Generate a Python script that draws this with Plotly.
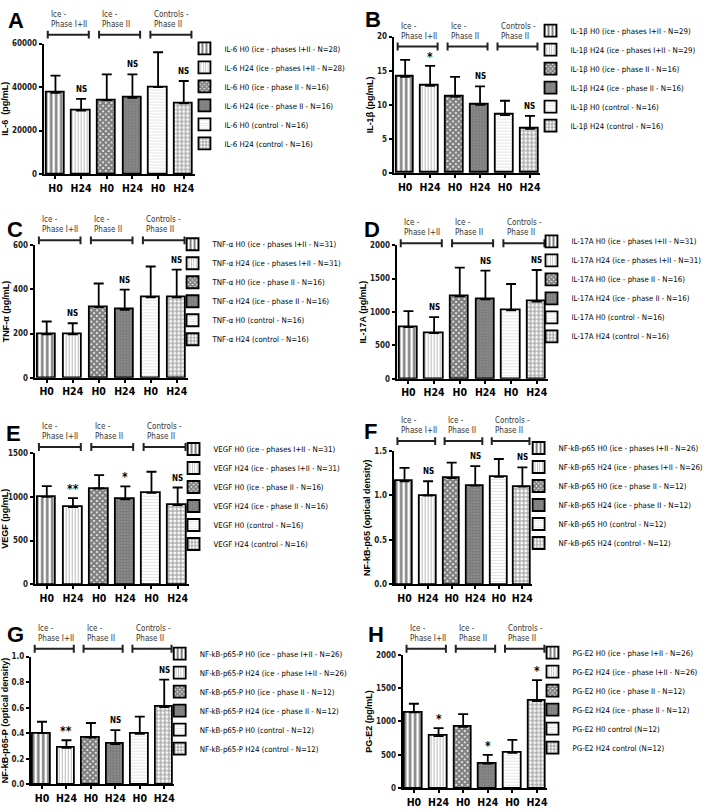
import plotly.graph_objects as go

# ---- data (mean, upper error bar) ----
bar_labels = ["H0", "H24", "H0", "H24", "H0", "H24"]
group_titles = ["Ice -<br>Phase I+II", "Ice -<br>Phase II", "Controls -<br>Phase II"]

il6_mean = [37300, 29200, 34000, 35000, 40000, 32500]
il6_err = [8000, 5400, 11800, 10800, 16000, 10300]
il6_sig = ["", "NS", "", "NS", "", "NS"]
il6_ticks = [0, 20000, 40000, 60000]
il6_names = ["IL-6 H0 (ice - phases I+II - N=28)", "IL-6 H24 (ice - phases I+II - N=28)",
             "IL-6 H0 (ice - phase II - N=16)", "IL-6 H24 (ice - phase II - N=16)",
             "IL-6 H0 (control - N=16)", "IL-6 H24 (control - N=16)"]

il1b_mean = [14.1, 12.8, 11.2, 10.0, 8.5, 6.5]
il1b_err = [2.5, 2.9, 2.9, 2.7, 2.1, 1.9]
il1b_sig = ["", "*", "", "NS", "", "NS"]
il1b_ticks = [0, 5, 10, 15, 20]
il1b_names = ["IL-1β H0 (ice - phases I+II - N=29)", "IL-1β H24 (ice - phases I+II - N=29)",
              "IL-1β H0 (ice - phase II - N=16)", "IL-1β H24 (ice - phase II - N=16)",
              "IL-1β H0 (control - N=16)", "IL-1β H24 (control - N=16)"]

tnf_mean = [197, 197, 320, 308, 364, 364]
tnf_err = [58, 50, 107, 91, 140, 126]
tnf_sig = ["", "NS", "", "NS", "", "NS"]
tnf_ticks = [0, 200, 400, 600]
tnf_names = ["TNF-α H0 (ice - phases I+II - N=31)", "TNF-α H24 (ice - phases I+II - N=31)",
             "TNF-α H0 (ice - phase II - N=16)", "TNF-α H24 (ice - phase II - N=16)",
             "TNF-α H0 (control - N=16)", "TNF-α H24 (control - N=16)"]

il17_mean = [775, 685, 1235, 1190, 1025, 1155]
il17_err = [240, 240, 430, 430, 395, 475]
il17_sig = ["", "NS", "", "NS", "", "NS"]
il17_ticks = [0, 500, 1000, 1500, 2000]
il17_names = ["IL-17A H0 (ice - phases I+II - N=31)", "IL-17A H24 (ice - phases I+II - N=31)",
              "IL-17A H0 (ice - phase II - N=16)", "IL-17A H24 (ice - phase II - N=16)",
              "IL-17A H0 (control - N=16)", "IL-17A H24 (control - N=16)"]

vegf_mean = [1000, 882, 1095, 970, 1046, 906]
vegf_err = [122, 103, 152, 150, 240, 200]
vegf_sig = ["", "**", "", "*", "", "NS"]
vegf_ticks = [0, 500, 1000, 1500]
vegf_names = ["VEGF H0 (ice - phases I+II - N=31)", "VEGF H24 (ice - phases I+II - N=31)",
              "VEGF H0 (ice - phase II - N=16)", "VEGF H24 (ice - phase II - N=16)",
              "VEGF H0 (control - N=16)", "VEGF H24 (control - N=16)"]

p65_mean = [1.16, 1.00, 1.195, 1.11, 1.21, 1.10]
p65_err = [0.15, 0.16, 0.175, 0.22, 0.20, 0.215]
p65_sig = ["", "NS", "", "NS", "", "NS"]
p65_ticks = [0.0, 0.5, 1.0, 1.5]
p65_names = ["NF-kB-p65 H0 (ice - phases I+II - N=26)", "NF-kB-p65 H24 (ice - phases I+II - N=26)",
             "NF-kB-p65 H0 (ice - phase II - N=12)", "NF-kB-p65 H24 (ice - phase II - N=12)",
             "NF-kB-p65 H0 (control - N=12)", "NF-kB-p65 H24 (control - N=12)"]

p65p_mean = [0.40, 0.285, 0.365, 0.315, 0.395, 0.605]
p65p_err = [0.09, 0.06, 0.115, 0.11, 0.135, 0.215]
p65p_sig = ["", "**", "", "NS", "", "NS"]
p65p_ticks = [0.0, 0.2, 0.4, 0.6, 0.8, 1.0]
p65p_names = ["NF-kB-p65-P H0 (ice - phase I+II - N=26)", "NF-kB-p65-P H24 (ice - phase I+II - N=26)",
              "NF-kB-p65-P H0 (ice - phase II - N=12)", "NF-kB-p65-P H24 (ice - phase II - N=12)",
              "NF-kB-p65-P H0 (control - N=12)", "NF-kB-p65-P H24 (control - N=12)"]

pge2_mean = [1135, 780, 920, 370, 530, 1305]
pge2_err = [130, 120, 190, 130, 195, 315]
pge2_sig = ["", "*", "", "*", "", "*"]
pge2_ticks = [0, 500, 1000, 1500, 2000]
pge2_names = ["PG-E2 H0 (ice - phase I+II - N=26)", "PG-E2 H24 (ice - phase I+II - N=26)",
              "PG-E2 H0 (ice - phase II - N=12)", "PG-E2 H24 (ice - phase II - N=12)",
              "PG-E2 H0 control (N=12)", "PG-E2 H24 control (N=12)"]

# fill styles for the six bars (same in every panel)
fills = [
    dict(color="white", pattern=dict(shape="|", size=5, solidity=0.5, fgcolor="black")),
    dict(color="white", pattern=dict(shape="|", size=3, solidity=0.3, fgcolor="#666666")),
    dict(color="white", pattern=dict(shape="x", size=4, solidity=0.8, fgcolor="black")),
    dict(color="#8a8a8a", pattern=dict(shape=".", size=3, solidity=0.3, fgcolor="#555555")),
    dict(color="white", pattern=dict(shape="-", size=3, solidity=0.25, fgcolor="#bdbdbd")),
    dict(color="white", pattern=dict(shape="+", size=4, solidity=0.5, fgcolor="#333333")),
]

W, H = 709, 812
FONT = "Liberation Sans Narrow, DejaVu Sans Condensed, Arial Narrow, sans-serif"


def px(x):
    return x / W


def py(y):
    return 1 - y / H


# panel geometry in pixels
panels = [
    dict(letter="A", mean=il6_mean, err=il6_err, sig=il6_sig, names=il6_names, ticks=il6_ticks,
         fmt="d", ytitle="IL-6  (pg/mL)", ax=40, span=148, top=40, bot=172, brk=31, lx=196, ly=93, tx=2, ty=2),
    dict(letter="B", mean=il1b_mean, err=il1b_err, sig=il1b_sig, names=il1b_names, ticks=il1b_ticks,
         fmt="d", ytitle="IL-1β (pg/mL)", ax=393, span=144, top=33, bot=171, brk=43, lx=545, ly=75, tx=362, ty=1),
    dict(letter="C", mean=tnf_mean, err=tnf_err, sig=tnf_sig, names=tnf_names, ticks=tnf_ticks,
         fmt="d", ytitle="TNF-α (pg/mL)", ax=31, span=150, top=244, bot=378, brk=239, lx=184, ly=291, tx=1, ty=213),
    dict(letter="D", mean=il17_mean, err=il17_err, sig=il17_sig, names=il17_names, ticks=il17_ticks,
         fmt="d", ytitle="IL-17A (pg/mL)", ax=396, span=148, top=244, bot=379, brk=242, lx=546, ly=288, tx=361, ty=213),
    dict(letter="E", mean=vegf_mean, err=vegf_err, sig=vegf_sig, names=vegf_names, ticks=vegf_ticks,
         fmt="d", ytitle="VEGF (pg/mL)", ax=31, span=151, top=454, bot=587, brk=448, lx=185, ly=498, tx=0, ty=420),
    dict(letter="F", mean=p65_mean, err=p65_err, sig=p65_sig, names=p65_names, ticks=p65_ticks,
         fmt=".1f", ytitle="NF-kB-p65 (optical density)", ax=393, span=136, top=452, bot=587, brk=442, lx=533, ly=497, tx=361, ty=418),
    dict(letter="G", mean=p65p_mean, err=p65p_err, sig=p65p_sig, names=p65p_names, ticks=p65p_ticks,
         fmt=".1f", ytitle="NF-kB-p65-P (optical density)", ax=27, span=141, top=660, bot=789, brk=652, lx=171, ly=705, tx=1, ty=623),
    dict(letter="H", mean=pge2_mean, err=pge2_err, sig=pge2_sig, names=pge2_names, ticks=pge2_ticks,
         fmt="d", ytitle="PG-E2 (pg/mL)", ax=402, span=142, top=658, bot=793, brk=652, lx=547, ly=704, tx=365, ty=623),
]

fig = go.Figure()
layout = {}
annotations = []
shapes = []

X0, X1 = -0.46, 5.42

for n, p in enumerate(panels, start=1):
    suf = "" if n == 1 else str(n)
    xa, ya = "x" + suf, "y" + suf
    leg = "legend" + suf
    unit = p["span"] / 5.72
    x_dom = [px(p["ax"]), px(p["ax"] + (X1 - X0) * unit)]
    y_dom = [py(p["bot"]), py(p["top"])]

    for i in range(6):
        fig.add_trace(go.Bar(
            x=[i], y=[p["mean"][i]], width=0.72,
            xaxis=xa, yaxis=ya, legend=leg, name=p["names"][i],
            marker=dict(line=dict(color="black", width=1.8), **fills[i]),
            error_y=dict(type="data", array=[p["err"][i]], arrayminus=[0], symmetric=False,
                         color="black", thickness=1.8, width=5),
            hoverinfo="skip",
        ))
        if p["sig"][i]:
            star = p["sig"][i] != "NS"
            annotations.append(dict(
                xref=xa, yref=ya, x=i, y=p["mean"][i] + p["err"][i], text="<b>%s</b>" % p["sig"][i],
                showarrow=False, yanchor="bottom", yshift=0 if star else 3,
                font=dict(family=FONT, size=12 if star else 8, color="black")))

    layout["xaxis" + suf] = dict(
        domain=x_dom, anchor=ya, range=[X0, X1], tickvals=list(range(6)), ticktext=bar_labels,
        showline=True, linecolor="black", linewidth=2, ticks="outside", ticklen=3, tickwidth=1.5,
        tickcolor="black", showgrid=False, zeroline=False,
        tickfont=dict(family=FONT, size=10.5, color="black", weight="bold"))
    layout["yaxis" + suf] = dict(
        domain=y_dom, anchor=xa, range=[0, p["ticks"][-1]], tickvals=p["ticks"], tickformat=p["fmt"],
        showline=True, linecolor="black", linewidth=2, ticks="outside", ticklen=3, tickwidth=1.5,
        tickcolor="black", showgrid=False, zeroline=False,
        tickfont=dict(family=FONT, size=8, color="#222222", weight="bold"),
        title=dict(text=p["ytitle"], standoff=2,
                   font=dict(family="Liberation Sans, Arial, sans-serif", size=9, color="black", weight="bold")))
    layout[leg] = dict(
        x=px(p["lx"] - 14), y=py(p["ly"]), xanchor="left", yanchor="middle",
        bgcolor="rgba(0,0,0,0)", itemwidth=30, tracegroupgap=0,
        font=dict(family=FONT, size=7.8, color="black"))

    # group brackets and titles
    for g in range(3):
        a, b = 2 * g - 0.3, 2 * g + 1.3
        yb = py(p["brk"])
        shapes.append(dict(type="line", xref=xa, yref="paper", x0=a, x1=b, y0=yb, y1=yb,
                           line=dict(color="#222222", width=2)))
        for xe in (a, b):
            shapes.append(dict(type="line", xref=xa, yref="paper", x0=xe, x1=xe,
                               y0=py(p["brk"] - 4), y1=py(p["brk"] + 4),
                               line=dict(color="#222222", width=2)))
        annotations.append(dict(
            xref=xa, yref="paper", x=a + 0.05, y=py(p["brk"] - 4), text=group_titles[g],
            showarrow=False, xanchor="left", yanchor="bottom", align="left",
            font=dict(family=FONT, size=8, color="#333333")))

    annotations.append(dict(
        xref="paper", yref="paper", x=px(p["tx"]), y=py(p["ty"]), text="<b>%s</b>" % p["letter"],
        showarrow=False, xanchor="left", yanchor="top",
        font=dict(family="Liberation Sans, Arial, sans-serif", size=22, color="black")))

fig.update_layout(
    width=W, height=H, margin=dict(l=0, r=0, t=0, b=0),
    plot_bgcolor="white", paper_bgcolor="white",
    bargap=0, annotations=annotations, shapes=shapes,
    **layout)

# the page body has a default 8px margin; drop it so the figure fills the window
fig.write_html("out.html", config={"displayModeBar": False},
               post_script="document.body.style.margin='0';")
